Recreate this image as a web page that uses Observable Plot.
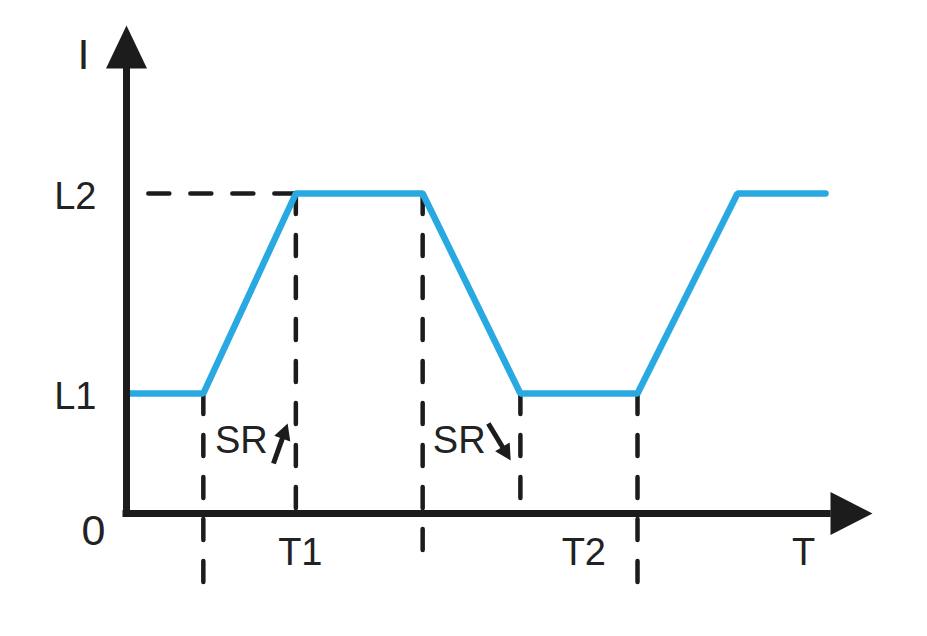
<!DOCTYPE html>
<html>
<head>
<meta charset="utf-8">
<script src="https://cdn.jsdelivr.net/npm/d3@7"></script>
<script src="https://cdn.jsdelivr.net/npm/@observablehq/plot@0.6"></script>
<style>
  html, body { margin: 0; padding: 0; background: #fff; overflow: hidden; }
  #chart svg { display: block; }
</style>
</head>
<body>
<div id="chart"></div>
<script>
// ---- data (arbitrary time / current units) ----
const waveT = [0, 1.03, 2.27, 3.97, 5.28, 6.85, 8.19, 9.37];
const waveI = [3, 3, 8, 8, 3, 3, 8, 8];

const levelNames = ["L1", "L2"];
const levelValues = [3, 8];

// vertical dashed guides: x position, top value, bottom value
const guideT = [1.03, 2.27, 3.97, 5.28, 6.85];
const guideTop = [3, 8, 8, 3, 3];
const guideBottom = [-1.75, 0, -1.05, 0.33, -1.75];

const timeLabels = ["T1", "T2", "T"];
const timeLabelX = [2.33, 6.13, 9.075];

const srLabels = ["SR", "SR"];
const srX = [1.54, 4.46];
const srY = [1.825, 1.825];
const srArrowX1 = [1.97, 4.85];
const srArrowY1 = [1.25, 2.25];
const srArrowX2 = [2.16, 5.15];
const srArrowY2 = [2.25, 1.325];

const xMax = 10;     // end of time axis (arrow tip)
const yMax = 12.2;   // end of current axis (arrow tip)

// ---- layout ----
const W = 927, H = 636;
const mL = 126, mR = 55, mT = 25, mB = 123;
const pxPerX = (W - mL - mR) / xMax;
const pxPerY = (H - mT - mB) / yMax;

// ---- derived tables ----
const wave = waveT.map((t, i) => ({t, I: waveI[i]}));
const levels = levelNames.map((name, i) => ({name, v: levelValues[i]}));
const guides = guideT.map((t, i) => ({t, top: guideTop[i], bottom: guideBottom[i]}));
const times = timeLabels.map((name, i) => ({name, t: timeLabelX[i]}));
const srs = srLabels.map((name, i) => {
  const x1 = srArrowX1[i], y1 = srArrowY1[i], x2 = srArrowX2[i], y2 = srArrowY2[i];
  const dxp = (x2 - x1) * pxPerX, dyp = -(y2 - y1) * pxPerY;
  const len = Math.hypot(dxp, dyp);
  const back = 10 / len; // shorten shaft so it ends inside the head
  return {name, x: srX[i], y: srY[i], x1, y1, x2, y2,
    xs: x2 - (x2 - x1) * back, ys: y2 - (y2 - y1) * back,
    angle: Math.atan2(dxp, -dyp) * 180 / Math.PI};
});

// arrowhead symbols (tip at the anchor point)
const upHead = {draw(ctx) { ctx.moveTo(0, 0); ctx.lineTo(-20.5, 43); ctx.lineTo(20.5, 43); ctx.closePath(); }};
const rightHead = {draw(ctx) { ctx.moveTo(0, 0); ctx.lineTo(-42, -21.5); ctx.lineTo(-42, 21.5); ctx.closePath(); }};
const smallHead = {draw(ctx) { ctx.moveTo(0, 0); ctx.lineTo(-8.5, 16); ctx.lineTo(8.5, 16); ctx.closePath(); }};

const ink = "#1c1c1c";
const textInk = "#222";
const blue = "#29a9e1";
const font = "Liberation Sans, Arial, Helvetica, sans-serif";
const dash = {stroke: ink, strokeWidth: 4.5, strokeDasharray: "21,21", strokeLinecap: "round"};

const chart = Plot.plot({
  width: W,
  height: H,
  marginLeft: mL,
  marginRight: mR,
  marginTop: mT,
  marginBottom: mB,
  x: {domain: [0, xMax], axis: null},
  y: {domain: [0, yMax], axis: null},
  style: {fontFamily: font, background: "#fff"},
  marks: [
    // dashed guides
    Plot.ruleX(guides, {x: "t", y1: "top", y2: "bottom", ...dash}),
    Plot.ruleY([levelValues[1]], {x1: waveT[2], x2: 0, ...dash}),
    // waveform
    Plot.line(wave, {x: "t", y: "I", stroke: blue, strokeWidth: 6.5, strokeLinejoin: "miter"}),
    // axes
    Plot.ruleX([0], {y1: 0, y2: 11.1, stroke: ink, strokeWidth: 7, strokeLinecap: "square"}),
    Plot.ruleY([0], {x1: 0, x2: 9.4, stroke: ink, strokeWidth: 7, strokeLinecap: "square"}),
    Plot.dot([0], {x: 0, y: yMax, symbol: upHead, fill: ink, stroke: "none"}),
    Plot.dot([0], {x: xMax, y: 0, symbol: rightHead, fill: ink, stroke: "none"}),
    // labels
    Plot.text(levels, {x: 0, y: "v", text: "name", textAnchor: "end", dx: -30, dy: 3, fontSize: 38, fill: textInk}),
    Plot.text(["0"], {x: 0, y: 0, text: d => d, textAnchor: "end", dx: -21, dy: 18, fontSize: 43, fill: textInk}),
    Plot.text(["I"], {x: 0, y: yMax, text: d => d, dx: -43, dy: 30, fontSize: 43, fill: textInk}),
    Plot.text(times, {x: "t", y: 0, text: "name", dy: 39, fontSize: 38, fill: textInk}),
    Plot.text(srs, {x: "x", y: "y", text: "name", fontSize: 38, fill: textInk}),
    // slew-rate arrows
    Plot.link(srs, {x1: "x1", y1: "y1", x2: "xs", y2: "ys", stroke: ink, strokeWidth: 5}),
    Plot.dot(srs, {x: "x2", y: "y2", rotate: "angle", symbol: smallHead, fill: ink, stroke: "none"})
  ]
});
document.getElementById("chart").append(chart);
</script>
</body>
</html>
